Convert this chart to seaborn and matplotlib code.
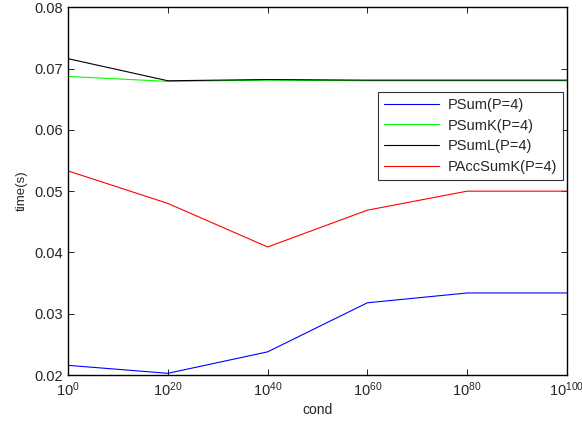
import numpy as np
import pandas as pd
import matplotlib
matplotlib.use("Agg")
import matplotlib.pyplot as plt
import matplotlib.ticker as mticker
import seaborn as sns

# condition numbers (x) and timings
cond = [1e0, 1e20, 1e40, 1e60, 1e80, 1e100]
psum = [0.0216, 0.0203, 0.0238, 0.0318, 0.0334, 0.0334]
psumk = [0.0687, 0.0679, 0.0681, 0.0680, 0.0680, 0.0680]
psuml = [0.0716, 0.0680, 0.0682, 0.0681, 0.0681, 0.0681]
paccsumk = [0.0533, 0.0480, 0.0409, 0.0469, 0.0500, 0.0500]

labels = ["PSum(P=4)", "PSumK(P=4)", "PSumL(P=4)", "PAccSumK(P=4)"]
colors = ["#0000ff", "#00ff00", "#000000", "#ff0000"]

df = pd.DataFrame({
    "cond": cond * 4,
    "time": psum + psumk + psuml + paccsumk,
    "method": np.repeat(labels, len(cond)),
})

sns.set_style("ticks")
plt.rcParams["font.family"] = ["Liberation Sans", "DejaVu Sans"]
plt.rcParams["xtick.direction"] = "in"
plt.rcParams["ytick.direction"] = "in"

fig = plt.figure(figsize=(5.82, 4.22), dpi=100)
ax = fig.add_axes([0.117, 0.111, 0.857, 0.872])

sns.lineplot(data=df, x="cond", y="time", hue="method", palette=colors,
             hue_order=labels, linewidth=0.8, ax=ax)

ax.set_xscale("log")
ax.set_xlim(1e0, 1e100)
ax.set_ylim(0.02, 0.08)
ax.set_xticks(cond)
ax.xaxis.set_minor_locator(mticker.NullLocator())
ax.set_yticks([0.02, 0.03, 0.04, 0.05, 0.06, 0.07, 0.08])
ax.yaxis.set_major_formatter(mticker.FormatStrFormatter("%.2f"))
ax.tick_params(which="both", direction="in", top=True, right=True,
               labelsize=10.5, length=4, width=0.6, color="black")
for s in ax.spines.values():
    s.set_visible(True)
    s.set_color("black")
    s.set_linewidth(1.0)

ax.set_xlabel("cond", fontsize=10, labelpad=3)
ax.set_ylabel("time(s)", fontsize=9.5, labelpad=5)

leg = ax.legend(loc="upper right", bbox_to_anchor=(0.992, 0.769), borderaxespad=0,
                fontsize=10.5, frameon=True, fancybox=False, borderpad=0.4,
                labelspacing=0.45, handlelength=3.8, handletextpad=0.6)
leg.get_frame().set_edgecolor("black")
leg.get_frame().set_linewidth(0.8)

fig.savefig("out.png", dpi=100)
